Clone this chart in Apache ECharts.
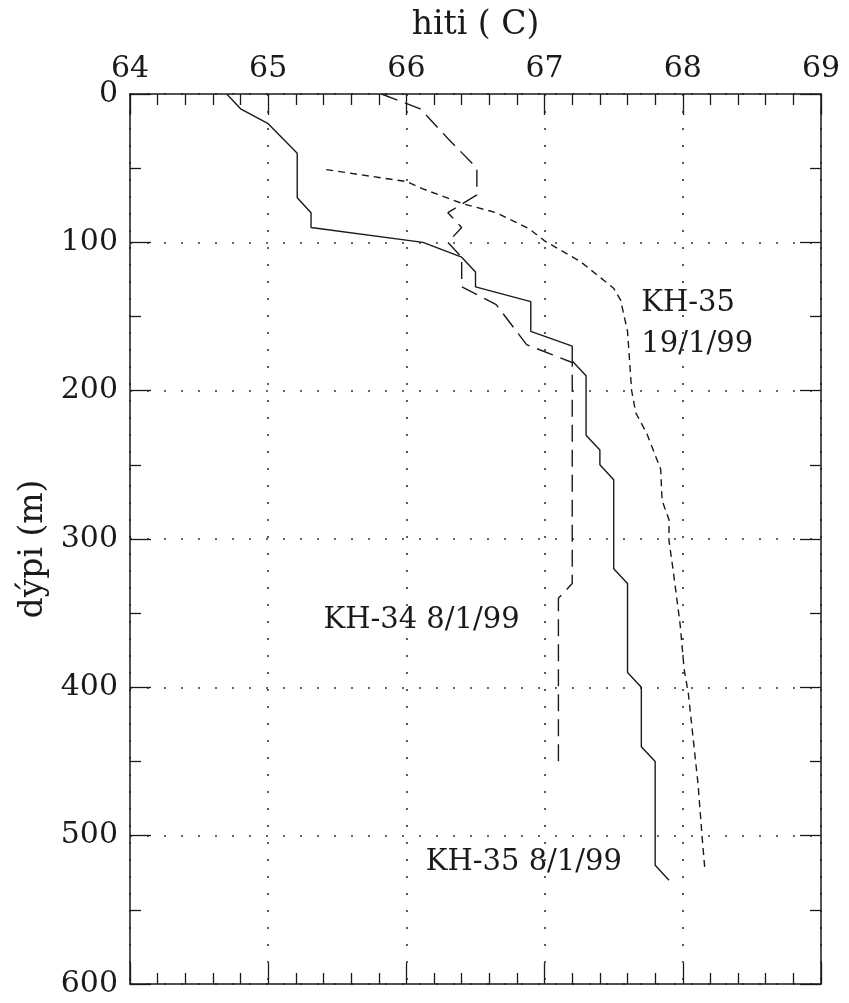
<!DOCTYPE html>
<html>
<head>
<meta charset="utf-8">
<script src="https://cdn.jsdelivr.net/npm/echarts@6/dist/echarts.min.js"></script>
<style>
  html, body { margin: 0; padding: 0; background: #fff; }
  #chart { width: 849px; height: 1003px; }
</style>
</head>
<body>
<div id="chart"></div>
<script>
// ---- Data (temperature in C, depth in m) ----
const xTicks = [64, 65, 66, 67, 68, 69];
const yTicks = [0, 100, 200, 300, 400, 500, 600];

// KH-35 8/1/99 (solid)
const kh35a_temp  = [64.70, 64.80, 65.00, 65.21, 65.21, 65.31, 65.31, 66.12, 66.40, 66.50, 66.50, 66.90, 66.90, 67.20, 67.20, 67.30, 67.30, 67.40, 67.40, 67.50, 67.50, 67.60, 67.60, 67.70, 67.70, 67.80, 67.80, 67.90];
const kh35a_depth = [0, 10, 20, 40, 70, 80, 90, 100, 110, 120, 130, 140, 160, 170, 180, 190, 230, 240, 250, 260, 320, 330, 390, 400, 440, 450, 520, 530];

// KH-34 8/1/99 (long dashes)
const kh34_temp  = [65.82, 66.10, 66.30, 66.51, 66.51, 66.30, 66.40, 66.30, 66.40, 66.40, 66.65, 66.87, 67.20, 67.20, 67.10, 67.10];
const kh34_depth = [0, 10, 30, 50, 68, 80, 90, 100, 110, 130, 142, 169, 181, 330, 340, 450];

// KH-35 19/1/99 (short dashes)
const kh35b_temp  = [65.42, 66.00, 66.12, 66.41, 66.65, 66.89, 67.00, 67.26, 67.50, 67.55, 67.60, 67.63, 67.66, 67.74, 67.84, 67.85, 67.90, 67.90, 67.93, 67.98, 68.01, 68.04, 68.11, 68.14, 68.16];
const kh35b_depth = [51, 59, 64, 74, 80, 91, 99, 113, 131, 139, 160, 200, 215, 229, 253, 274, 287, 301, 321, 357, 388, 404, 465, 501, 523];

// Annotations: text, anchor temperature, anchor depth, alignment
const noteTexts = ['KH-35', '19/1/99', 'KH-34 8/1/99', 'KH-35 8/1/99'];
const noteTemp  = [67.70, 67.70, 66.11, 66.85];
const noteDepth = [141, 169, 355, 518];
const noteAlign = ['left', 'left', 'center', 'center'];

const FONT = 'DejaVu Serif';
const INK = '#1a1a1a';

function pairs(t, d) { return t.map((v, i) => [v, d[i]]); }

const chart = echarts.init(document.getElementById('chart'), null, { renderer: 'canvas' });

const gridStyle = { show: true, lineStyle: { color: '#333', width: 1.6, type: [2, 15] } };

function xAxisDef(pos, main) {
  return {
    type: 'value', position: pos, min: 64, max: 69, interval: 1,
    name: main ? 'hiti ( C)' : '', nameLocation: 'middle', nameGap: 52,
    nameTextStyle: { fontFamily: FONT, fontSize: 33, color: INK },
    axisLine: { show: true, onZero: false, lineStyle: { color: INK, width: 1.5 } },
    axisTick: { show: true, inside: true, length: 21, lineStyle: { color: INK, width: 1.3 } },
    minorTick: { show: true, splitNumber: 5, length: 11, lineStyle: { color: INK, width: 1.3 } },
    axisLabel: { show: main, margin: 10, fontFamily: FONT, fontSize: 30, color: INK,
      formatter: v => xTicks.includes(v) ? String(v) : '' },
    splitLine: main ? gridStyle : { show: false }
  };
}
function yAxisDef(pos, main) {
  return {
    type: 'value', position: pos, inverse: true, min: 0, max: 600, interval: 100,
    name: main ? 'dýpi (m)' : '', nameLocation: 'middle', nameGap: 80, nameRotate: 90,
    nameTextStyle: { fontFamily: FONT, fontSize: 33, color: INK, padding: [0, 20, 0, 0] },
    axisLine: { show: true, onZero: false, lineStyle: { color: INK, width: 1.5 } },
    axisTick: { show: true, inside: true, length: 21, lineStyle: { color: INK, width: 1.3 } },
    minorTick: { show: true, splitNumber: 2, length: 11, lineStyle: { color: INK, width: 1.3 } },
    axisLabel: { show: main, margin: 12, fontFamily: FONT, fontSize: 30, color: INK,
      formatter: v => yTicks.includes(v) ? String(v) : '' },
    splitLine: main ? gridStyle : { show: false }
  };
}

const lineBase = { type: 'line', showSymbol: false, symbol: 'none', silent: true, animation: false, xAxisIndex: 0, yAxisIndex: 0 };

chart.setOption({
  animation: false,
  backgroundColor: '#fff',
  grid: { left: 130, right: 28, top: 94, bottom: 19, containLabel: false },
  xAxis: [xAxisDef('top', true), xAxisDef('bottom', false)],
  yAxis: [yAxisDef('left', true), yAxisDef('right', false)],
  series: [
    Object.assign({}, lineBase, { name: 'KH-35 8/1/99', data: pairs(kh35a_temp, kh35a_depth),
      lineStyle: { color: INK, width: 1.4, type: 'solid' } }),
    Object.assign({}, lineBase, { name: 'KH-34 8/1/99', data: pairs(kh34_temp, kh34_depth),
      lineStyle: { color: INK, width: 1.4, type: [17, 8] } }),
    Object.assign({}, lineBase, { name: 'KH-35 19/1/99', data: pairs(kh35b_temp, kh35b_depth),
      lineStyle: { color: INK, width: 1.4, type: [7, 5] } })
  ]
});

const graphics = noteTexts.map((txt, i) => {
  const p = chart.convertToPixel({ xAxisIndex: 0, yAxisIndex: 0 }, [noteTemp[i], noteDepth[i]]);
  return {
    type: 'text', x: p[0], y: p[1], silent: true,
    style: { text: txt, fontFamily: FONT, fontSize: 29, fill: INK,
      align: noteAlign[i], verticalAlign: 'middle' }
  };
});
chart.setOption({ graphic: graphics });
</script>
</body>
</html>
